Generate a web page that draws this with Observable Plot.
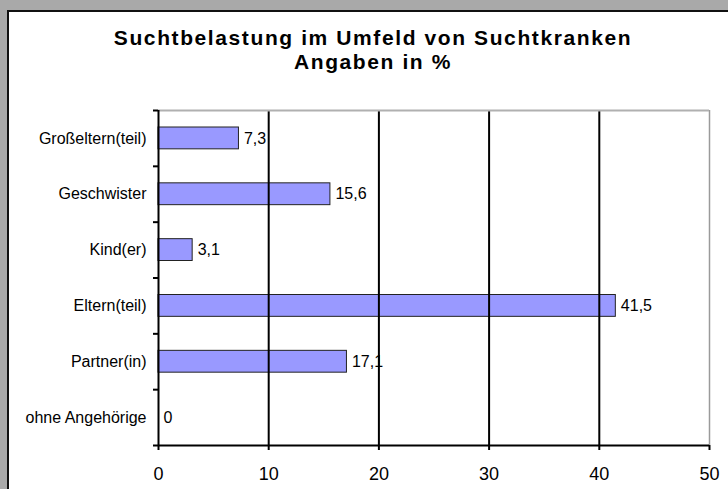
<!DOCTYPE html>
<html><head><meta charset="utf-8">
<script src="https://cdn.jsdelivr.net/npm/d3@7"></script>
<script src="https://cdn.jsdelivr.net/npm/@observablehq/plot@0.6"></script>
<style>
html,body{margin:0;padding:0;background:#a9a9a9;width:728px;height:489px;overflow:hidden;font-family:"Liberation Sans",Arial,sans-serif;}
#frame{position:absolute;left:7px;top:10px;width:760px;height:520px;border:2px solid #111;background:#fff;}
#title{position:absolute;left:0;top:26px;width:746px;text-align:center;font-weight:bold;font-size:21px;line-height:24px;letter-spacing:1.6px;color:#000;}
#chart{position:absolute;left:0;top:80px;}
</style></head><body>
<div id="frame"></div>
<div id="title">Suchtbelastung im Umfeld von Suchtkranken<br>Angaben in %</div>
<div id="chart"></div>
<script>
const categories = ["Großeltern(teil)","Geschwister","Kind(er)","Eltern(teil)","Partner(in)","ohne Angehörige"];
const values = [7.3, 15.6, 3.1, 41.5, 17.1, 0];
const xTicks = [0, 10, 20, 30, 40, 50];
const gridTicks = [10, 20, 30, 40];

const data = categories.map((c, i) => ({category: c, value: values[i], i}));
const fmt = d => String(d).replace(".", ",");
const bandCenters = categories.map((c, i) => i + 0.5);
const bandEdges = d3.range(categories.length + 1);

const chart = Plot.plot({
  width: 728,
  height: 409,
  marginLeft: 158,
  marginRight: 19,
  marginTop: 30,
  marginBottom: 44,
  style: {background: "transparent", fontFamily: "'Liberation Sans', Arial, sans-serif", color: "#000", overflow: "visible"},
  x: {domain: [0, 50], label: null},
  y: {domain: [0, categories.length], reverse: true, label: null},
  marks: [
    Plot.rectX(data, {x1: 0, x2: "value", y1: d => d.i, y2: d => d.i + 1, insetTop: 17, insetBottom: 17, fill: "#9999ff", stroke: "#222", strokeWidth: 1}),
    Plot.text(data, {x: "value", y: d => d.i + 0.5, text: d => fmt(d.value), textAnchor: "start", dx: 5, fontSize: 16, fill: "#000"}),
    Plot.ruleX(gridTicks, {stroke: "#000", strokeWidth: 2}),
    Plot.ruleX([50], {stroke: "#9a9a9a", strokeWidth: 1.5}),
    Plot.ruleY([0], {stroke: "#b0b0b0", strokeWidth: 2}),
    Plot.ruleX([0], {stroke: "#000", strokeWidth: 2}),
    Plot.ruleY([categories.length], {stroke: "#000", strokeWidth: 2}),
    Plot.axisX({ticks: xTicks, tickSize: 5, tickPadding: 17, fontSize: 18, tickFormat: d => String(d), strokeWidth: 2}),
    Plot.axisY({ticks: bandEdges, tickSize: 5, tickFormat: () => "", strokeWidth: 2}),
    Plot.axisY({ticks: bandCenters, tickSize: 0, tickPadding: 12, fontSize: 16, tickFormat: d => categories[Math.floor(d)]})
  ]
});
document.getElementById("chart").appendChild(chart);
</script>
</body></html>
